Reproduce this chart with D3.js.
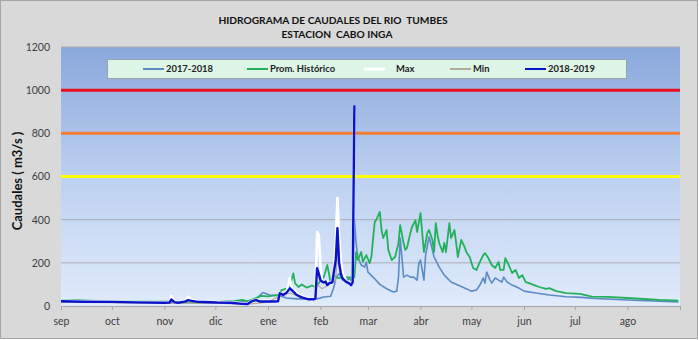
<!DOCTYPE html>
<html><head><meta charset="utf-8">
<script src="https://cdn.jsdelivr.net/npm/d3@7"></script>
<style>
html,body{margin:0;padding:0;background:#fff;}
svg text{font-family:Lato,"Open Sans",sans-serif;}
</style></head>
<body><svg id="c" width="699" height="340"></svg>
<script>
// ---------- DATA ----------
const monthLabels = ["sep","oct","nov","dic","ene","feb","mar","abr","may","jun","jul","ago"];
const yTicks = [0,200,400,600,800,1000,1200];
const thresholds = [1000, 800, 600];

const serie2017_2018 = [
["2018-09-01",20],["2018-10-01",18],["2018-11-01",15],["2018-12-01",15],["2018-12-15",18],["2018-12-22",25],
["2018-12-26",40],["2018-12-29",62],["2019-01-02",51],["2019-01-08",48],["2019-01-12",37],
["2019-01-18",33],["2019-01-24",33],["2019-01-30",33],["2019-02-03",42],["2019-02-07",45],["2019-02-09",89],
["2019-02-10",130],["2019-02-12",150],["2019-02-14",120],["2019-02-17",120],["2019-02-18",134],["2019-02-20",130],
["2019-02-21",400],["2019-02-22",292],["2019-02-23",227],["2019-02-25",190],["2019-02-27",180],["2019-02-28",204],
["2019-03-01",157],["2019-03-04",134],["2019-03-08",100],["2019-03-12",80],["2019-03-16",65],["2019-03-18",69],
["2019-03-19",134],["2019-03-20",315],["2019-03-21",227],["2019-03-22",134],["2019-03-24",143],["2019-03-26",134],
["2019-03-28",134],["2019-03-30",120],["2019-03-31",199],["2019-04-01",213],["2019-04-03",120],["2019-04-04",236],
["2019-04-06",320],["2019-04-07",292],["2019-04-09",227],["2019-04-12",180],["2019-04-15",143],["2019-04-19",111],
["2019-04-23",97],["2019-04-27",83],["2019-05-01",69],["2019-05-04",74],["2019-05-06",97],["2019-05-08",130],
["2019-05-09",106],["2019-05-10",157],["2019-05-12",120],["2019-05-13",106],["2019-05-15",130],["2019-05-17",120],
["2019-05-19",111],["2019-05-20",134],["2019-05-22",111],["2019-05-25",97],["2019-05-29",83],["2019-06-01",69],
["2019-06-08",60],["2019-06-16",51],["2019-06-26",43],["2019-07-05",40],["2019-07-13",35],["2019-08-01",28],
["2019-08-31",19]
];

const promHistorico = [
["2018-09-01",26],["2018-09-10",27],["2018-09-25",23],["2018-10-10",22],["2018-10-25",20],["2018-11-05",20],
["2018-11-15",17],["2018-11-25",16],["2018-12-05",20],["2018-12-12",22],["2018-12-17",28],["2018-12-20",22],
["2018-12-25",37],["2018-12-28",47],["2019-01-01",45],["2019-01-04",48],["2019-01-08",50],
["2019-01-09",74],["2019-01-12",80],["2019-01-14",95],["2019-01-16",151],["2019-01-17",106],["2019-01-19",88],
["2019-01-21",100],["2019-01-24",85],["2019-01-27",95],["2019-01-29",88],["2019-01-31",106],["2019-02-03",136],
["2019-02-05",190],["2019-02-06",150],["2019-02-07",105],["2019-02-09",143],["2019-02-11",130],["2019-02-15",130],
["2019-02-17",134],["2019-02-19",120],["2019-02-21",134],["2019-02-22",250],["2019-02-23",213],["2019-02-25",250],
["2019-02-26",204],["2019-02-28",236],["2019-03-02",199],["2019-03-03",227],["2019-03-05",390],["2019-03-06",400],
["2019-03-08",436],["2019-03-09",352],["2019-03-10",315],["2019-03-12",352],["2019-03-13",260],["2019-03-15",213],
["2019-03-17",227],["2019-03-19",292],["2019-03-20",375],["2019-03-22",292],["2019-03-23",260],["2019-03-24",269],
["2019-03-26",338],["2019-03-27",366],["2019-03-29",398],["2019-03-30",343],["2019-04-01",430],["2019-04-02",338],
["2019-04-03",250],["2019-04-05",338],["2019-04-06",352],["2019-04-08",306],["2019-04-09",250],["2019-04-10",384],
["2019-04-11",329],["2019-04-12",292],["2019-04-14",250],["2019-04-15",292],["2019-04-16",250],["2019-04-18",384],
["2019-04-19",315],["2019-04-21",352],["2019-04-22",292],["2019-04-23",227],["2019-04-25",306],["2019-04-27",273],
["2019-04-28",250],["2019-04-30",227],["2019-05-02",176],["2019-05-04",167],["2019-05-06",204],["2019-05-08",236],
["2019-05-09",245],["2019-05-11",222],["2019-05-13",190],["2019-05-15",176],["2019-05-17",204],["2019-05-18",167],
["2019-05-20",167],["2019-05-21",222],["2019-05-23",190],["2019-05-25",153],["2019-05-27",167],["2019-05-29",130],
["2019-05-31",143],["2019-06-02",111],["2019-06-04",106],["2019-06-07",97],["2019-06-10",88],["2019-06-14",79],
["2019-06-16",83],["2019-06-20",69],["2019-06-26",60],["2019-07-04",56],["2019-07-11",43],["2019-07-20",42],
["2019-08-01",37],["2019-08-20",28],["2019-08-31",25]
];

const maxSerie = [
["2018-09-01",24],["2018-09-15",22],["2018-10-01",21],["2018-10-15",19],["2018-11-01",17],["2018-11-04",18],
["2018-11-05",46],["2018-11-07",20],["2018-11-09",17],["2018-11-13",22],["2018-11-15",43],["2018-11-17",30],
["2018-11-20",22],["2018-12-02",18],["2018-12-10",17],["2018-12-17",12],["2018-12-20",11],["2018-12-23",26],
["2018-12-25",29],["2018-12-27",24],["2019-01-04",24],["2019-01-07",26],["2019-01-08",62],["2019-01-09",55],
["2019-01-10",54],["2019-01-12",66],["2019-01-14",130],["2019-01-15",75],["2019-01-17",68],["2019-01-19",54],
["2019-01-22",43],["2019-01-25",34],["2019-01-28",34],["2019-01-29",45],["2019-01-30",343],["2019-01-31",330],
["2019-02-01",180],["2019-02-02",115],["2019-02-03",115],["2019-02-04",112],["2019-02-05",115],["2019-02-07",100],
["2019-02-09",150],["2019-02-10",300],["2019-02-11",500],["2019-02-12",330],["2019-02-13",210],["2019-02-14",155],
["2019-02-16",118],["2019-02-17",110],["2019-02-18",108],["2019-02-19",100],["2019-02-20",115],["2019-02-21",930]
];

const minSerie = [
["2018-09-01",18],["2018-10-01",16],["2018-11-01",13],["2018-12-01",13],["2018-12-20",8],["2019-01-01",18],
["2019-01-08",45],["2019-01-14",60],["2019-01-22",36],["2019-01-29",30],["2019-01-30",100],["2019-02-02",80],
["2019-02-10",120],["2019-02-11",250],["2019-02-14",120],["2019-02-20",95]
];

const serie2018_2019 = [
["2018-09-01",22],["2018-09-15",20],["2018-10-01",19],["2018-10-15",17],["2018-11-01",15],["2018-11-04",16],
["2018-11-05",30],["2018-11-07",18],["2018-11-09",15],["2018-11-13",20],["2018-11-15",27],["2018-11-17",24],
["2018-11-20",20],["2018-12-02",16],["2018-12-10",15],["2018-12-17",10],["2018-12-20",9],["2018-12-23",24],
["2018-12-25",27],["2018-12-27",21],["2019-01-04",21],["2019-01-07",22],["2019-01-08",59],["2019-01-10",51],
["2019-01-12",62],["2019-01-14",82],["2019-01-16",67],["2019-01-18",51],
["2019-01-21",40],["2019-01-25",31],["2019-01-28",31],["2019-01-29",35],["2019-01-30",175],["2019-01-31",150],
["2019-02-01",120],["2019-02-02",113],["2019-02-03",109],["2019-02-04",113],["2019-02-05",97],["2019-02-06",105],
["2019-02-08",110],["2019-02-10",213],["2019-02-11",361],["2019-02-12",199],["2019-02-13",151],["2019-02-14",128],
["2019-02-16",113],["2019-02-18",105],["2019-02-19",97],["2019-02-20",111],["2019-02-21",930]
];

const legendItems = [
 {name:"2017-2018", color:"#5b8bc4"},
 {name:"Prom. Histórico", color:"#22b15a"},
 {name:"Max", color:"#ffffff"},
 {name:"Min", color:"#b5a998"},
 {name:"2018-2019", color:"#0a12cc"}
];
const thresholdColors = ["#e8101e","#ee7d33","#ffff00"];

// ---------- CHART ----------
const svg = d3.select("#c");
const parse = d3.timeParse("%Y-%m-%d");
const L=61, R=680, T=47, B=306;

svg.append("rect").attr("x",0.5).attr("y",0.5).attr("width",697).attr("height",338)
  .attr("fill","#d9d9d9").attr("stroke","#a6a6a6");

const defs = svg.append("defs");
const g = defs.append("linearGradient").attr("id","bg").attr("x1",0).attr("y1",0).attr("x2",0).attr("y2",1);
g.append("stop").attr("offset","0%").attr("stop-color","#8aa8dc");
g.append("stop").attr("offset","50%").attr("stop-color","#bcd0f0");
g.append("stop").attr("offset","100%").attr("stop-color","#e0ebfb");

const x = d3.scaleTime().domain([parse("2018-09-01"), parse("2019-09-01")]).range([L,R]);
const y = d3.scaleLinear().domain([0,1200]).range([B,T]);

svg.append("rect").attr("x",L).attr("y",T).attr("width",R-L).attr("height",B-T).attr("fill","url(#bg)");

// gridlines
svg.append("g").selectAll("line").data(yTicks.filter(d=>d>0)).join("line")
  .attr("x1",L).attr("x2",R).attr("y1",d=>y(d)).attr("y2",d=>y(d))
  .attr("stroke","#a9adb5").attr("stroke-width",1);

// threshold lines
svg.append("g").selectAll("line").data(thresholds).join("line")
  .attr("x1",L).attr("x2",R).attr("y1",d=>y(d)).attr("y2",d=>y(d))
  .attr("stroke",(d,i)=>thresholdColors[i]).attr("stroke-width",3);

// axes
const months = d3.timeMonth.range(parse("2018-09-01"), parse("2019-09-01"));
const xAxis = svg.append("g").attr("transform",`translate(0,${B})`)
  .call(d3.axisBottom(x).tickValues(months.concat([parse("2019-09-01")])).tickSize(4)
    .tickFormat((d,i)=> i<monthLabels.length ? monthLabels[i] : ""));
xAxis.select(".domain").attr("stroke","#a6a6a6");
xAxis.selectAll(".tick line").attr("stroke","#a6a6a6");
xAxis.selectAll(".tick text").attr("fill","#404040").attr("font-size",10.5).attr("dy","1.15em");

const yAxis = svg.append("g").attr("transform",`translate(${L},0)`)
  .call(d3.axisLeft(y).tickValues(yTicks).tickSize(0).tickPadding(11).tickFormat(d3.format("d")));
yAxis.select(".domain").remove();
yAxis.selectAll(".tick text").attr("fill","#404040").attr("font-size",10.5);

// series
const line = d3.line().x(d=>x(parse(d[0]))).y(d=>y(d[1]));
const seriesDefs = [
 {data:serie2017_2018, color:legendItems[0].color, w:1.6},
 {data:promHistorico, color:legendItems[1].color, w:1.8},
 {data:maxSerie, color:legendItems[2].color, w:2.6},
 {data:minSerie, color:legendItems[3].color, w:1.2},
 {data:serie2018_2019, color:legendItems[4].color, w:2.4}
];
svg.append("g").selectAll("path").data(seriesDefs).join("path")
  .attr("d",d=>line(d.data)).attr("fill","none").attr("stroke",d=>d.color)
  .attr("stroke-width",d=>d.w).attr("stroke-linejoin","round");

// legend
const lg = svg.append("g");
lg.append("rect").attr("x",107.5).attr("y",59.5).attr("width",519).attr("height",19)
  .attr("fill","#ddf5e7").attr("stroke","#9aa4a8");
const legX = [143, 247, 364, 450, 525];
const it = lg.selectAll("g.it").data(legendItems).join("g").attr("class","it")
  .attr("transform",(d,i)=>`translate(${legX[i]},69)`);
it.append("line").attr("x1",0).attr("x2",21).attr("stroke",d=>d.color).attr("stroke-width",d=>d.name==="Max"?3:2);
it.append("text").attr("x",d=>d.name==="Max"?32:23).attr("dy","0.35em").attr("font-size",9.4).attr("font-weight","bold")
  .attr("fill","#222").text(d=>d.name);

// titles
svg.append("text").attr("x",333).attr("y",24).attr("text-anchor","middle").attr("font-size",10.2)
  .attr("font-weight","bold").attr("fill","#111").style("white-space","pre").text("HIDROGRAMA DE CAUDALES DEL RIO  TUMBES");
svg.append("text").attr("x",337).attr("y",38).attr("text-anchor","middle").attr("font-size",10.2)
  .attr("font-weight","bold").attr("fill","#111").style("white-space","pre").text("ESTACION  CABO INGA");
svg.append("text").attr("transform","translate(22,181) rotate(-90)").attr("text-anchor","middle")
  .attr("font-size",13).attr("font-weight","bold").attr("fill","#111").text("Caudales ( m3/s )");
</script></body></html>
